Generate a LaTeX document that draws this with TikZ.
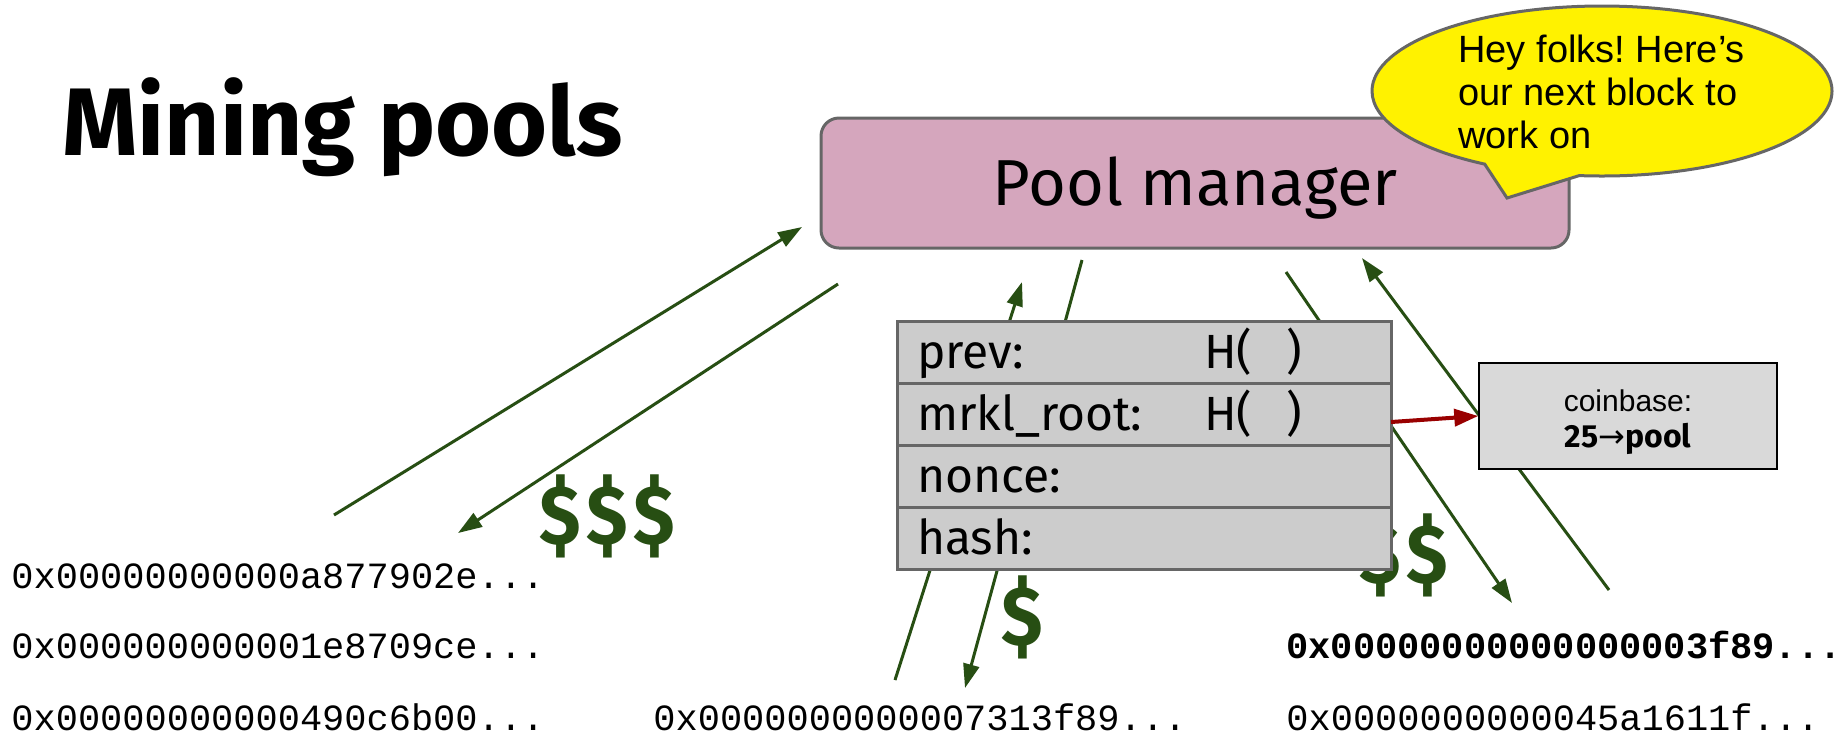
\documentclass[tikz,border=0pt]{standalone}
\usepackage{fontspec}
\setmainfont{Fira Sans}
\newfontfamily\arialfont{Liberation Sans}
\newfontfamily\hexfont{Liberation Mono}
\newfontfamily\symfont{DejaVu Sans}
\newfontfamily\cashfont{Fira Sans}[FakeStretch=0.9]
\usetikzlibrary{arrows.meta}
\usetikzlibrary{positioning}
\usetikzlibrary{shapes.callouts}

\definecolor{cashgreen}{HTML}{274E13}
\definecolor{pmpink}{HTML}{D5A6BD}
\definecolor{rowgray}{HTML}{CCCCCC}
\definecolor{edgegray}{HTML}{666666}
\definecolor{cbgray}{HTML}{D9D9D9}
\definecolor{ptred}{HTML}{990000}

\begin{document}
\frenchspacing
\begin{tikzpicture}[x=0.5pt, y=-0.5pt,
  flow/.style={draw=cashgreen, line width=1.5pt},
  flowarr/.style={flow, -{Triangle[length=12pt,width=8pt]}},
  hex/.style={anchor=base west, inner sep=0pt, font=\hexfont\fontsize{18.5pt}{20pt}\selectfont},
  cash/.style={text=cashgreen, inner sep=0pt, font=\cashfont\bfseries\fontsize{42pt}{42pt}\selectfont},
  pmbox/.style={draw=edgegray, fill=pmpink, line width=1.5pt, rounded corners=9pt, minimum width=374pt, minimum height=65pt, text height=22.5pt, text depth=0pt, font=\fontsize{32.5pt}{32.5pt}\selectfont},
  row/.style={draw=edgegray, fill=rowgray, line width=1.5pt, outer sep=0pt, minimum height=31pt, text width=227pt, inner xsep=10pt, inner ysep=0pt, align=left, text height=16.5pt, text depth=0pt, font=\fontsize{24pt}{24pt}\selectfont},
  cbbox/.style={draw=black, fill=cbgray, line width=0.75pt, minimum width=149pt, minimum height=53pt, align=center, font=\fontsize{15pt}{18pt}\selectfont},
  bubble/.style={ellipse callout, draw=edgegray, fill=yellow, line width=1.5pt, minimum width=230pt, minimum height=85pt, inner sep=0pt, callout pointer arc=25},
  bubtext/.style={align=left, inner sep=0pt, font=\arialfont\fontsize{19pt}{21.5pt}\selectfont}]
  \path[use as bounding box, fill=white] (0,0) rectangle (1845,741);

  % title and pool manager
  \node[anchor=base west, inner sep=0pt, font=\bfseries\fontsize{48pt}{48pt}\selectfont] (title) at (62,155) {Mining pools};
  \node[pmbox] (pm) at (1195,183) {Pool manager};

  % miners' hashes
  \node[hex] (hA1) at (11,588) {0x00000000000a877902e...};
  \node[hex] (hA2) at (11,658) {0x000000000001e8709ce...};
  \node[hex] (hA3) at (11,730) {0x00000000000490c6b00...};
  \node[hex] (hB3) at (653,730) {0x0000000000007313f89...};
  \node[hex, font=\hexfont\bfseries\fontsize{18.5pt}{20pt}\selectfont] (hC2) at (1286,658) {0x00000000000000003f89...};
  \node[hex] (hC3) at (1286,730) {0x0000000000045a1611f...};

  % work and payout flows
  \coordinate (aOut) at (334,515);  \coordinate (aIn) at (802,227);
  \coordinate (aPay) at (838,284);  \coordinate (aGet) at (458,533);
  \coordinate (bOut) at (895,680);  \coordinate (bIn) at (1022,282);
  \coordinate (bPay) at (1082,260); \coordinate (bGet) at (965,688);
  \coordinate (cPay) at (1286,272); \coordinate (cGet) at (1512,603);
  \coordinate (cOut) at (1609,590); \coordinate (cIn) at (1362,258);
  \draw[flowarr] (aOut) -- (aIn);
  \draw[flowarr] (aPay) -- (aGet);
  \draw[flowarr] (bOut) -- (bIn);
  \draw[flowarr] (bPay) -- (bGet);
  \draw[flowarr] (cPay) -- (cGet);
  \draw[flowarr] (cOut) -- (cIn);

  \node[cash] (cashA) at (607,516) {\$\hspace{2.7pt}\$\hspace{2.7pt}\$};
  \node[cash] (cashB) at (1022,617) {\$};
  \node[cash] (cashC) at (1404,555) {\$\hspace{2.7pt}\$};

  % block header
  \node[row] (prev) at (1144,352) {\makebox[143.5pt][l]{prev:}H(\hspace{17pt})};
  \node[row, below=0pt of prev] (mrkl) {\makebox[143.5pt][l]{mrkl\_root:}H(\hspace{17pt})};
  \node[row, below=0pt of mrkl] (nonce) {nonce:};
  \node[row, below=0pt of nonce] (hash) {hash:};

  \node[cbbox] (cb) at (1628,416) {\rule{0pt}{17pt}{\arialfont coinbase:}\\{\bfseries\fontsize{16pt}{18pt}\selectfont 25{\mdseries\symfont →}pool}};
  \draw[draw=ptred, line width=2pt, -{Triangle[length=12pt,width=8.5pt]}] ([yshift=-4pt]mrkl.east) -- (cb.west);

  % speech bubble
  \node[bubble, callout absolute pointer={(1507,198)}] (say) at (1602,91) {};
  \node[bubtext, anchor=west] (saytxt) at (1458,92) {Hey folks! Here’s\\our next block to\\work on};
\end{tikzpicture}
\end{document}
